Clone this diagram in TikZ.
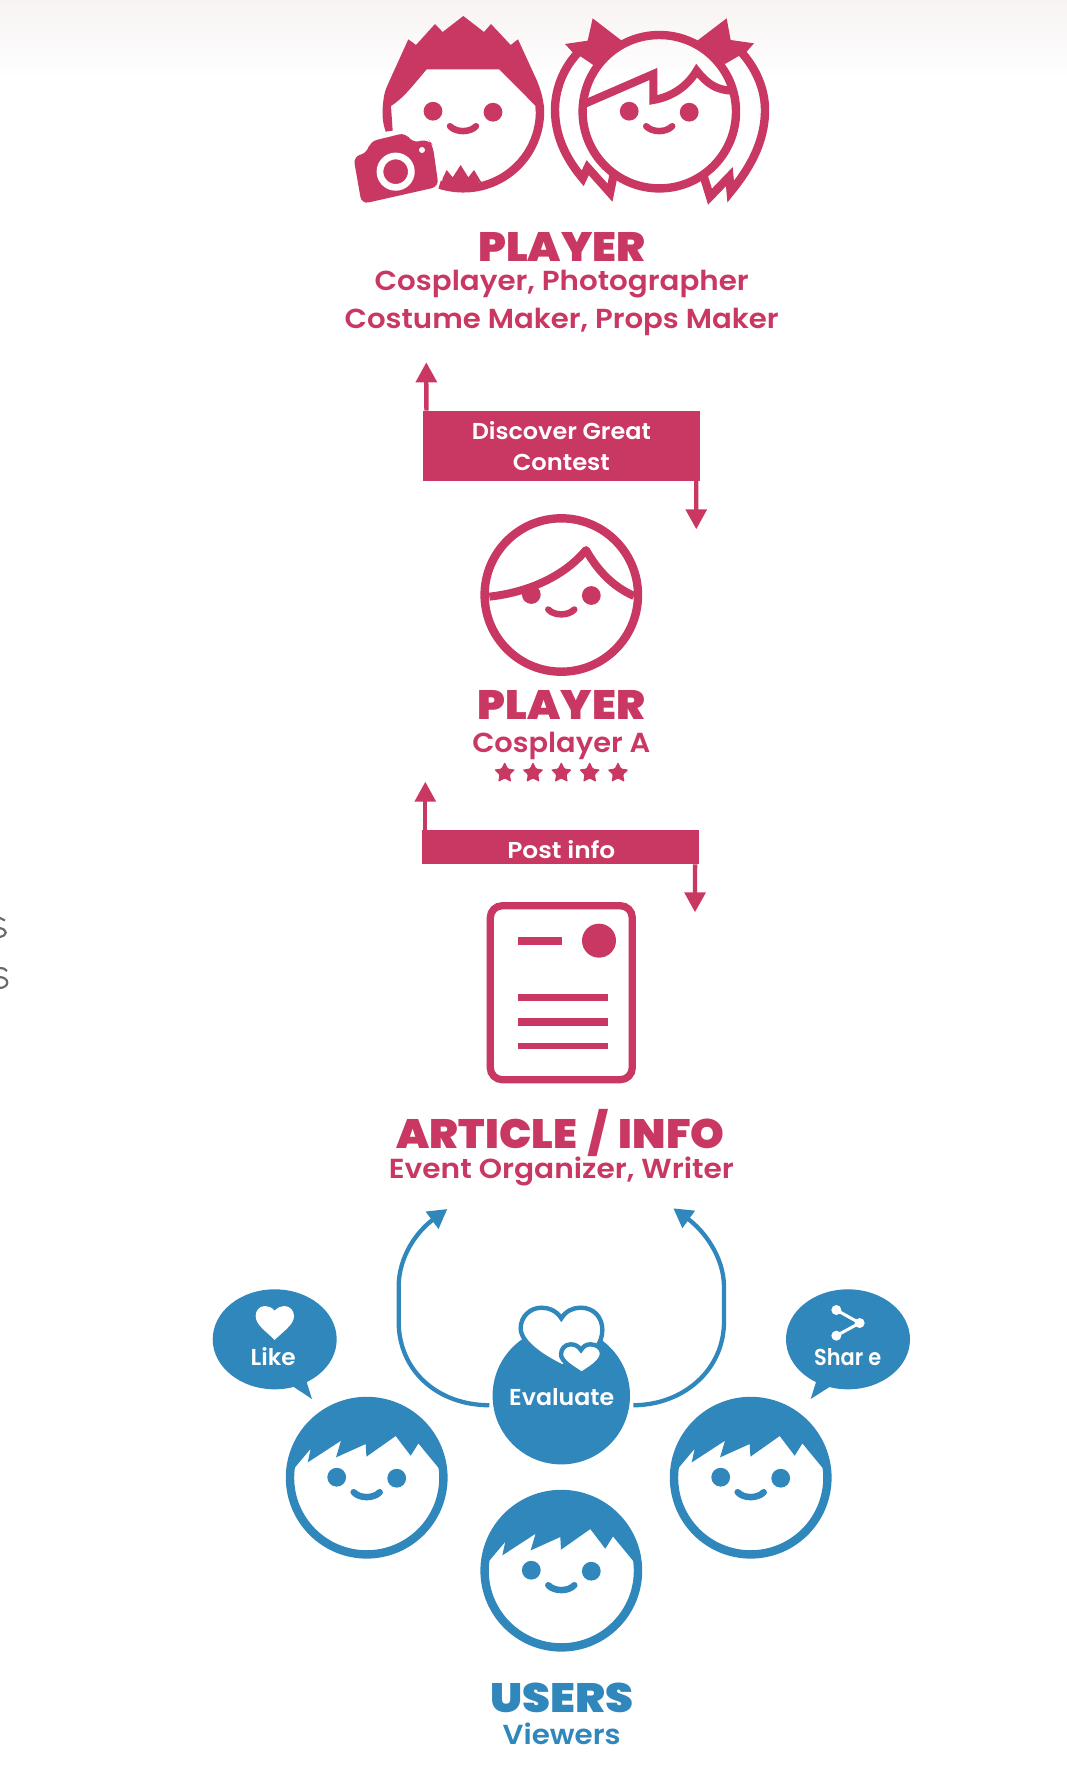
\documentclass[tikz,border=0pt]{standalone}
\usepackage{fontspec}
\usepackage{graphicx}
\usetikzlibrary{arrows.meta,shapes.geometric}
\setmainfont{Poppins}
\newfontfamily\mfont{Poppins}[UprightFont=* SemiBold]
\newfontfamily\hfont{Poppins}[UprightFont=* Black]
\definecolor{pk}{HTML}{C93763}
\definecolor{bl}{HTML}{3087BB}
\definecolor{gy}{HTML}{6A6A6A}
\definecolor{tp}{HTML}{F7F3F2}
\newcommand\fw[2]{\resizebox{#1pt}{\height}{#2}}
\tikzset{
  zc/.style={x=0.33333pt,y=-0.33333pt},
  headtxt/.style={anchor=base,inner sep=0pt,font=\hfont\fontsize{41}{41}\selectfont},
  subtxt/.style={anchor=base,inner sep=0pt,font=\mfont\fontsize{27.5}{27.5}\selectfont},
  wtxt/.style={anchor=base,inner sep=0pt,text=white,font=\mfont\fontsize{23}{23}\selectfont},
  facering/.style={circle,draw,line width=8.4pt,minimum size=153.4pt,inner sep=0pt,outer sep=0pt},
  smile/.style={line width=6.5pt,line cap=round},
  banner/.style={rectangle,fill=pk,text=white,inner sep=0pt,outer sep=0pt,minimum width=277pt,align=center},
  pkarrow/.style={draw=pk,line width=4.3pt,-{Triangle[length=20pt,width=20.6pt,fill=pk]}},
  blarrow/.style={draw=bl,line width=4.3pt,-{Triangle[length=19pt,width=20.5pt,fill=bl]}},
  rating/.style={star,star points=5,star point ratio=2.0,fill=pk,minimum size=22pt,inner sep=0pt,outer sep=0pt,rounded corners=1pt},
  speech/.style={ellipse,fill=bl,minimum width=124pt,minimum height=100pt,inner sep=0pt,outer sep=0pt}
}
\newcommand\facefeat[3]{%
  \fill[#3] (#1-30,#2-0.5) circle[radius=9.4pt] (#1+30,#2+0.5) circle[radius=9.4pt];
  \draw[#3,smile] (#1-13,#2+14.5) .. controls (#1-7,#2+21) and (#1+7,#2+21) .. (#1+13,#2+14.5);
}
\newcommand\userface[3]{%
  \begin{scope}[shift={(#2,#3)}]
    \clip (0,0) circle[radius=76.7pt];
    \fill[bl] (-71.7,-10.3) -- (-56,-29) -- (-59,-15.3) -- (-25.7,-37) -- (-30.7,-20.3) -- (-1,-33.7) -- (-0.3,-21) -- (29,-41.7) -- (44,-22) -- (51.7,-34.3) -- (72.3,-9.3) -- (90,-9.3) -- (90,-90) -- (-90,-90) -- (-90,-10.3) -- cycle;
  \end{scope}
  \node[facering,draw=bl] (#1) at (#2,#3) {};
  \facefeat{#2}{#3}{bl}
}
\begin{document}
\begin{tikzpicture}[x=1pt,y=-1pt]
\useasboundingbox (0,0) rectangle (1067,1770);
\shade[top color=tp,bottom color=white] (0,0) rectangle (1067,78);

% stray glyph fragments on the left edge
\draw[gy,line width=2.2pt] (-1,917.5) -- (5,920.5);
\draw[gy,line width=2.2pt] (-1,928) .. controls (8,929) and (8,936) .. (-1,937);
\draw[gy,line width=2.2pt] (-1,968) .. controls (3,968) and (6,969) .. (7,971);
\draw[gy,line width=2.2pt] (-1,977) .. controls (10,977) and (10,988) .. (-1,988);

% boy
\begin{scope}[shift={(320,0)},zc]
  \fill[pk] (265,118) -- (288,135) -- (345,72) -- (368,96) -- (430,48) -- (492,96) -- (513,72) -- (572,135) -- (594,118) -- (650,240) .. controls (665,275) and (672,305) .. (672,335) -- (647,335) -- (647,318) -- (538,208) -- (320,208) .. controls (280,255) and (250,295) .. (213,318) -- (218,392) -- (197,395) .. controls (190,375) and (186,350) .. (188,325) .. controls (190,290) and (195,270) .. (205,250) -- cycle;
  \draw[pk,line width=8.4pt] plot[domain=-5:108,samples=40] ({430+230*cos(\x)},{335+230*sin(\x)});
  \fill[pk] (362,568) -- (368,535) -- (380,510) -- (398,532) -- (422,495) -- (445,532) -- (462,510) -- (483,545) -- (430,565) -- cycle;
  \fill[pk,rounded corners=7pt] (100,470) -- (143,458) -- (149,425) -- (258,398) -- (275,428) -- (325,418) -- (338,435) -- (356,560) -- (125,612) -- cycle;
  \draw[white,line width=6.7pt] (227,515) circle[radius=15.7pt];
  \fill[white] (306,450) circle[radius=3pt];
\end{scope}
\facefeat{463}{111.7}{pk}

% girl
\node[facering,draw=pk] (girl) at (659.3,111.7) {};
\begin{scope}[shift={(320,0)},zc]
  \draw[pk,line width=8.4pt,miter limit=10] (782,150) .. controls (725,205) and (705,275) .. (705,330) .. controls (705,420) and (750,490) .. (788,535) -- (803,503) -- (870,578) -- (882,518);
  \draw[pk,line width=8.4pt,miter limit=10] (1258,150) .. controls (1310,205) and (1335,270) .. (1335,330) .. controls (1335,430) and (1285,510) .. (1232,575) -- (1228,530) -- (1170,590) -- (1150,525);
  \fill[pk] (818,55) -- (905,122) -- (820,195) -- (783,170) -- (758,157) -- (735,132) -- (803,122) -- cycle;
  \fill[pk] (1220,55) -- (1132,122) -- (1215,192) -- (1258,167) -- (1280,155) -- (1302,130) -- (1232,120) -- cycle;
  \draw[pk,line width=8pt,miter limit=10] (795,311) -- (1000,222) -- (1000,300) .. controls (1060,290) and (1105,255) .. (1130,212) .. controls (1160,250) and (1190,272) .. (1240,272);
\end{scope}
\facefeat{659.2}{111.7}{pk}

% labels, top
\node[headtxt,text=pk] (playerTop) at (561.7,261) {\fw{167}{PLAYER}};
\node[subtxt,text=pk] (subTopA) at (561.7,290) {\fw{374}{Cosplayer, Photographer}};
\node[subtxt,text=pk] (subTopB) at (561.7,328) {\fw{434}{Costume Maker, Props Maker}};

% banner 1
\node[banner,minimum height=70pt,font=\mfont\fontsize{23}{31}\selectfont] (ban1) at (561.3,445.7) {\fw{179}{Discover Great}\\\fw{97}{Contest}};
\coordinate (ban1up) at (426.3,362.3);
\coordinate (ban1dn) at (696.3,529.3);
\draw[pkarrow] ([xshift=3.6pt]ban1.north west) -- (ban1up);
\draw[pkarrow] ([xshift=-3.6pt]ban1.south east) -- (ban1dn);

% player A
\node[facering,draw=pk] (faceA) at (561.3,595) {};
\facefeat{561.3}{595}{pk}
\begin{scope}[shift={(400,350)},zc]
  \draw[pk,line width=8pt,line join=round] (268,740) .. controls (400,725) and (500,670) .. (558,600) .. controls (595,665) and (640,710) .. (702,738);
\end{scope}
\node[headtxt,text=pk] (playerA) at (561.3,719) {\fw{167}{PLAYER}};
\node[subtxt,text=pk] (subA) at (561.3,752) {\fw{178}{Cosplayer A}};
\node[rating] (st1) at (504.7,773) {};
\node[rating] (st2) at (533,773) {};
\node[rating] (st3) at (561.3,773) {};
\node[rating] (st4) at (589.7,773) {};
\node[rating] (st5) at (618,773) {};

% banner 2
\node[banner,minimum height=34.3pt] (ban2) at (560.2,847.2) {};
\coordinate (ban2up) at (425.3,781.7);
\coordinate (ban2dn) at (695,912.3);
\draw[pkarrow] ([xshift=3.6pt]ban2.north west) -- (ban2up);
\draw[pkarrow] ([xshift=-3.6pt]ban2.south east) -- (ban2dn);
\node[wtxt] (postinfo) at (561.3,858.5) {\fw{108}{Post info}};

% document
\node[rectangle,draw=pk,line width=7.3pt,rounded corners=12pt,minimum width=142pt,minimum height=174pt,inner sep=0pt,outer sep=0pt] (doc) at (561.3,992.7) {};
\begin{scope}[shift={(400,770)},zc]
  \fill[pk] (355,501) rectangle (485,524);
  \fill[pk] (597,512) circle[radius=17pt];
  \fill[pk] (355,673) rectangle (623,694);
  \fill[pk] (355,745) rectangle (623,767);
  \fill[pk] (355,819) rectangle (623,837);
\end{scope}

\node[headtxt,text=pk] (article) at (560.8,1148) {\fw{328}{ARTICLE\kern.12em{} / \kern.12em{}INFO}};
\node[subtxt,text=pk] (organizer) at (561.3,1178) {\fw{345}{Event Organizer, Writer}};

% evaluate
\node[circle,fill=bl,minimum size=137.4pt,inner sep=0pt,outer sep=0pt] (eval) at (561.3,1395.7) {};
\begin{scope}[shift={(480,1190)},zc]
  \draw[bl,fill=white,line width=4.4pt] (244,385) .. controls (230,362) and (205,353) .. (185,353) .. controls (150,353) and (122,380) .. (122,415) .. controls (122,460) and (195,505) .. (247,530) -- (345,480) .. controls (360,460) and (367,440) .. (367,420) .. controls (367,380) and (340,353) .. (302,353) .. controls (280,353) and (258,362) .. (244,385) -- cycle;
  \draw[bl,fill=white,line width=4.4pt] (303,480) .. controls (295,468) and (285,463) .. (272,463) .. controls (255,463) and (243,477) .. (243,493) .. controls (243,515) and (280,535) .. (305,552) .. controls (330,535) and (366,515) .. (366,490) .. controls (366,475) and (350,463) .. (332,463) .. controls (320,463) and (310,468) .. (303,480) -- cycle;
\end{scope}
\node[wtxt] (evaltxt) at (561.7,1405) {\fw{105}{Evaluate}};

% arrows from evaluate
\begin{scope}[shift={(200,1190)},zc]
  \coordinate (tipL) at (742,57);
  \draw[blarrow,shorten <=4pt] (eval.188) .. controls (710,645) and (596,540) .. (596,395) -- (596,290) .. controls (596,200) and (650,125) .. (tipL);
\end{scope}
\begin{scope}[shift={(480,1190)},zc]
  \coordinate (tipR) at (580,55);
  \draw[blarrow,shorten <=4pt] (eval.-8) .. controls (610,645) and (732,540) .. (732,395) -- (732,290) .. controls (732,200) and (670,120) .. (tipR);
\end{scope}

% like bubble
\node[speech] (like) at (274.7,1339.3) {};
\begin{scope}[shift={(200,1190)},zc]
  \fill[bl] (280,590) -- (336,627) -- (318,570) -- cycle;
  \fill[white] (224,362) .. controls (215,352) and (205,348) .. (195,348) .. controls (178,348) and (167,362) .. (167,378) .. controls (167,405) and (200,425) .. (224,450) .. controls (248,425) and (282,405) .. (282,378) .. controls (282,362) and (270,348) .. (253,348) .. controls (243,348) and (233,352) .. (224,362) -- cycle;
\end{scope}
\node[wtxt] (liketxt) at (273.2,1365.5) {\fw{45}{Like}};

% share bubble
\node[speech] (share) at (848,1339.3) {};
\begin{scope}[shift={(480,1190)},zc]
  \fill[bl] (1050,590) -- (992,627) -- (1010,570) -- cycle;
  \draw[white,line width=3pt] (1069,360) -- (1139,399) -- (1069,437);
  \fill[white] (1069,360) circle[radius=5pt] (1139,399) circle[radius=5pt] (1069,437) circle[radius=5pt];
\end{scope}
\node[wtxt] (sharetxt) at (847.7,1365) {\fw{67}{Shar e}};

% users
\userface{userL}{366.7}{1477.7}
\userface{userR}{750.7}{1477.7}
\userface{userM}{561.3}{1570.7}
\node[headtxt,text=bl] (users) at (561.7,1712.7) {\fw{143}{USERS}};
\node[subtxt,text=bl] (viewers) at (561.7,1744) {\fw{118}{Viewers}};
\end{tikzpicture}
\end{document}
